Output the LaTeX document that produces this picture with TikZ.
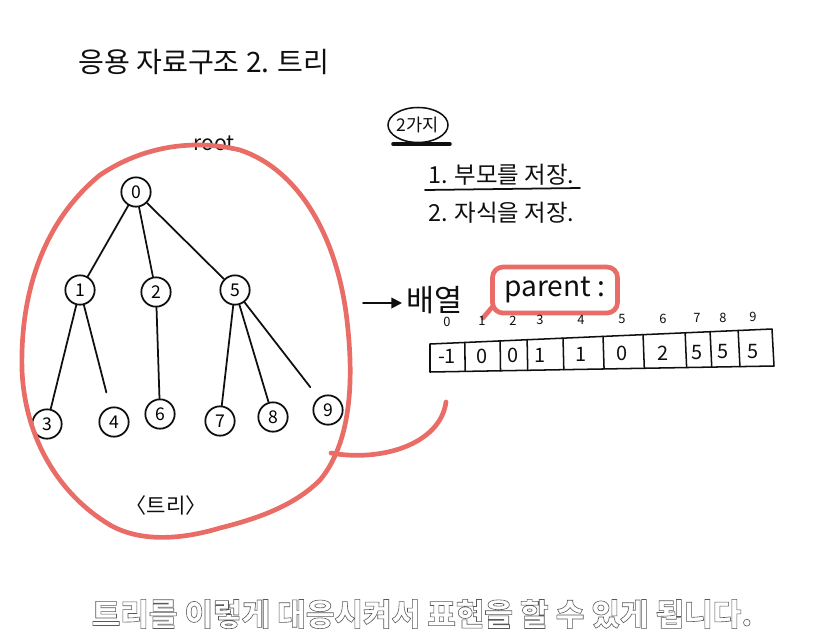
\documentclass[tikz,border=0pt]{standalone}
\usepackage{fontspec}
\setmainfont{Noto Sans CJK KR}
\usetikzlibrary{calc,shapes.geometric,arrows.meta}
\definecolor{penred}{RGB}{234,108,102}
\definecolor{ink}{RGB}{15,15,15}
\begin{document}
\begin{tikzpicture}[x=0.03cm,y=-0.03cm,
  ink/.style={draw=ink,line width=1.5pt,line cap=round,line join=round},
  tnode/.style={circle,draw=ink,line width=1.5pt,minimum size=0.88cm,inner sep=0pt,font=\fontsize{15}{15}\selectfont},
  redpen/.style={draw=penred,line width=4pt,line cap=round,line join=round},
  hand/.style={inner sep=0pt,text=ink}]
\useasboundingbox[fill=white] (0,0) rectangle (835,640);

% title
\node[hand,font=\fontsize{24}{24}\selectfont,anchor=west] (title) at (78,62) {응용 자료구조 2. 트리};

% tree
\node[tnode] (n0) at (136,192) {0};
\node[tnode] (n1) at (80,290) {1};
\node[tnode] (n2) at (156,292) {2};
\node[tnode] (n5) at (235,290) {5};
\node[tnode] (n3) at (47,424) {3};
\node[tnode] (n4) at (114,422) {4};
\node[tnode] (n6) at (160,414) {6};
\node[tnode] (n7) at (220,421) {7};
\node[tnode] (n8) at (273,417) {8};
\node[tnode] (n9) at (328,410) {9};
\draw[ink] (n0) -- (n1);
\draw[ink] (n0) -- (n2);
\draw[ink] (n0) -- (n5);
\draw[ink] (n1) -- (n3);
\draw[ink,shorten >=0.45cm] (n1) -- (n4);
\draw[ink] (n2) -- (n6);
\draw[ink] (n5) -- (n7);
\draw[ink] (n5) -- (n8);
\draw[ink,shorten >=0.4cm] (n5) -- (n9);

\node[hand,font=\fontsize{18}{18}\selectfont] (root) at (214,143) {root};
\node[hand,font=\fontsize{18}{18}\selectfont] (treelbl) at (166,505) {〈트리〉};

% red loop around the tree
\draw[redpen] (220,528) .. controls (180,540) and (140,542) .. (110,525)
  .. controls (60,495) and (25,440) .. (22,370)
  .. controls (20,290) and (45,220) .. (100,175)
  .. controls (140,148) and (190,138) .. (240,150)
  .. controls (300,170) and (340,240) .. (348,330)
  .. controls (355,400) and (345,450) .. (320,480)
  .. controls (295,505) and (260,518) .. (220,528);

% two ways
\node[ellipse,draw=ink,line width=1.3pt,minimum width=1.8cm,minimum height=1.05cm,inner sep=0pt,font=\fontsize{15}{15}\selectfont,text=ink] (two) at (418,125) {2가지};
\coordinate (ulA) at (393,144);
\coordinate (ulB) at (450,144);
\draw[ink,line width=3pt] (ulA) -- (ulB);
\node[hand,font=\fontsize{20}{20}\selectfont,anchor=west] (way1) at (428,175) {1. 부모를 저장.};
\node[hand,font=\fontsize{20}{20}\selectfont,anchor=west] (way2) at (428,213) {2. 자식을 저장.};
\coordinate (u1a) at (425,190);
\coordinate (u1b) at (580,188);
\draw[ink] (u1a) -- (u1b);

% arrow and array label
\coordinate (arA) at (363,303);
\coordinate (arB) at (402,303);
\draw[ink,-{Triangle[length=9pt,width=9pt]}] (arA) -- (arB);
\node[hand,font=\fontsize{26}{26}\selectfont,anchor=west] (bae) at (406,300) {배열};
\node[draw=penred,line width=4pt,rounded corners=9pt,minimum width=3.75cm,minimum height=1.38cm,inner sep=0pt,text=ink,font=\fontsize{24}{24}\selectfont] (parent) at (555,290) {parent :};
\coordinate (tailA) at (493,306);
\coordinate (tailB) at (483,318);
\draw[redpen] (tailA) -- (tailB);

% array
\coordinate (TL) at (430,344);
\coordinate (TR) at (772,329);
\coordinate (BR) at (774,366);
\coordinate (BL) at (430,372);
\draw[ink,line width=1.3pt] (TL) -- (TR) -- (BR) -- (BL) -- cycle;
\foreach \t in {0.102,0.205,0.284,0.389,0.506,0.623,0.746,0.819,0.901}{
  \draw[ink,line width=1.3pt] ($(TL)!\t!(TR)$) -- ($(BL)!\t!(BR)$);
}
\foreach \x/\v/\i [count=\k from 0] in {447/-1/0,482/0/1,513/0/2,540/1/3,581/1/4,622/0/5,663/2/6,697/5/7,723/5/8,753/5/9}{
  \pgfmathsetmacro{\yv}{357-6*(\x-430)/342}
  \pgfmathsetmacro{\yi}{322-5*(\x-430)/342}
  \node[hand,font=\fontsize{17}{17}\selectfont] (v\k) at (\x,\yv) {\v};
  \node[hand,font=\fontsize{11}{11}\selectfont] (i\k) at (\x,\yi) {\i};
}

% red connector from node 9 to the array
\coordinate (cA) at (331,453);
\coordinate (cB) at (446,402);
\draw[redpen] (cA) .. controls (380,462) and (440,445) .. (cB);

% subtitle: white letters with a grey outline
\node[inner sep=0pt,font=\fontsize{26.5}{26.5}\selectfont\bfseries] (sub) at (422,614) {\special{pdf:literal direct 2 Tr 0.5 w 0.35 G 1 g}트리를 이렇게 대응시켜서 표현을 할 수 있게 됩니다.\special{pdf:literal direct 0 Tr 0 G 0 g}};
\end{tikzpicture}
\end{document}
